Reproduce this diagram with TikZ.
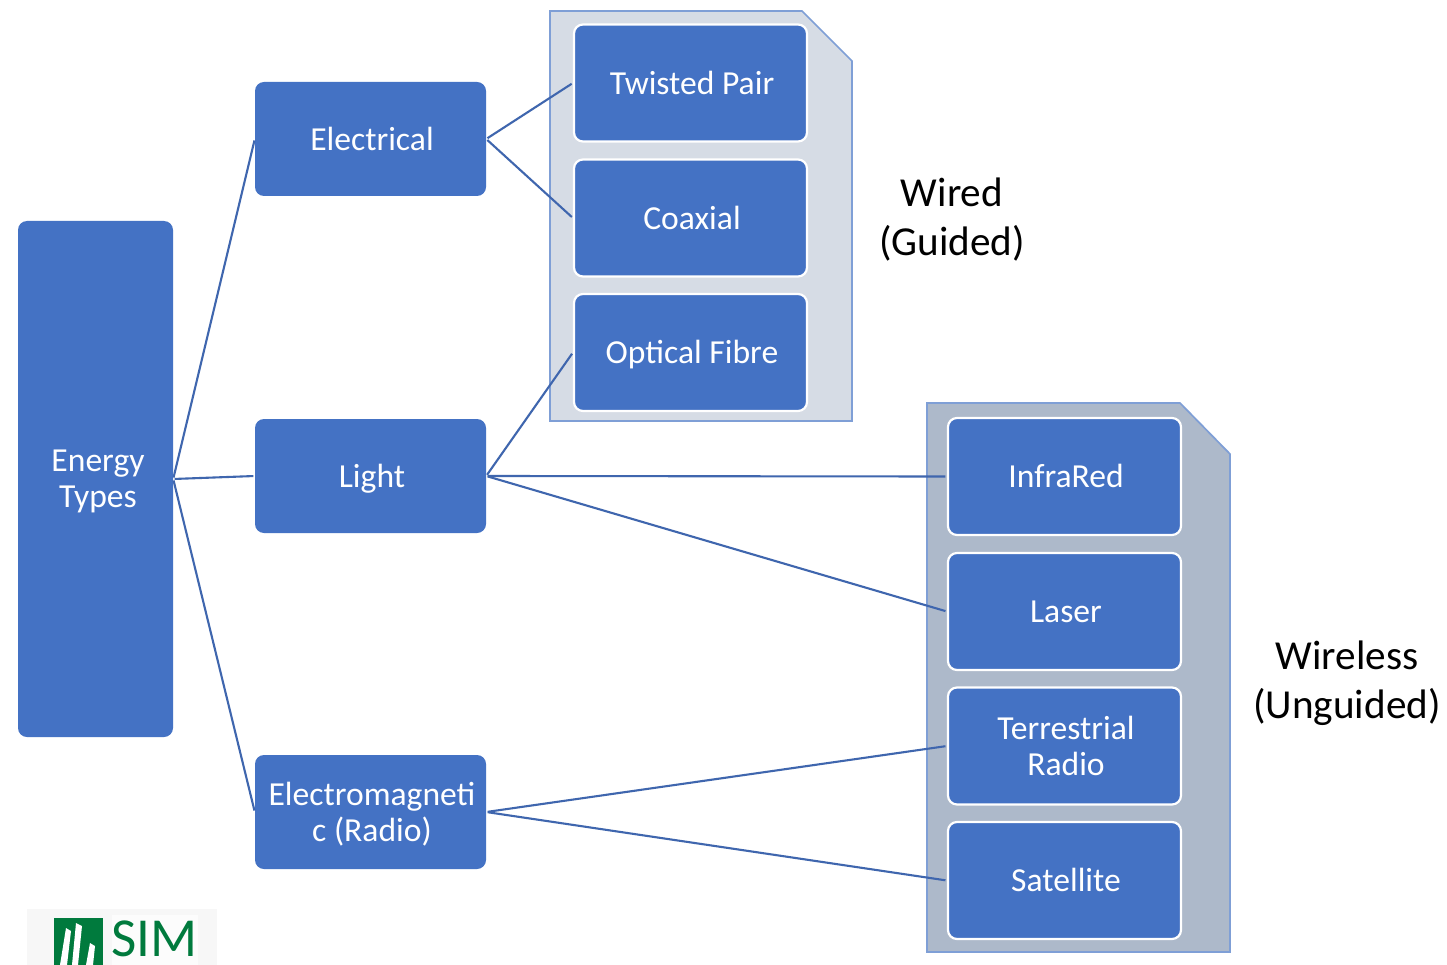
\documentclass[tikz,border=0pt]{standalone}
\usepackage{fontspec}
\setmainfont{Carlito}
\definecolor{boxblue}{HTML}{4472C4}
\definecolor{linkblue}{HTML}{3F66AE}
\definecolor{foldera}{HTML}{D6DCE5}
\definecolor{folderb}{HTML}{ADB9CA}
\definecolor{folderedge}{HTML}{7F9FD6}
\definecolor{simgreen}{HTML}{007A3D}
\begin{document}
\begin{tikzpicture}[x=1pt,y=-1pt,
  box/.style={fill=boxblue,rounded corners=9pt,text=white,align=center,inner sep=0pt,
    font=\fontsize{33.6}{36}\selectfont},
  sub/.style={box,draw=white,line width=2.2pt,minimum width=233pt,minimum height=117pt},
  cat/.style={box,draw=none,minimum width=231pt,minimum height=114pt},
  oneline/.style={text height=22.5pt,text depth=0pt},
  link/.style={draw=linkblue,line width=2.1pt,shorten >=1.5pt,shorten <=1.5pt},
  folder/.style={draw=folderedge,line width=1.7pt},
  captext/.style={align=center,inner sep=0pt,font=\fontsize{41.2}{49}\selectfont}]
\useasboundingbox (0,0) rectangle (1447,965);
\fill[white] (0,0) rectangle (1447,965);
% folders
\draw[folder,fill=foldera] (550,11) -- (802,11) -- (852,61) -- (852,421) -- (550,421) -- cycle;
\draw[folder,fill=folderb] (927,403) -- (1180,403) -- (1230,454) -- (1230,952) -- (927,952) -- cycle;
% nodes
\node[box,minimum width=155pt,minimum height=516pt] (energy) at (95.5,479) {\hspace*{5pt}Energy\\\hspace*{5pt}\smash{Types}};
\node[cat,oneline] (elec) at (370.5,139) {\hspace*{3pt}Electrical};
\node[cat,oneline] (light) at (370.5,476) {\hspace*{3pt}Light};
\node[cat] (em) at (370.5,812) {\hspace*{3pt}Electromagneti\\\hspace*{3pt}\smash{c (Radio)}};
\node[sub,oneline] (tp) at (690.5,83) {\hspace*{3pt}Twisted Pair};
\node[sub,oneline] (co) at (690.5,218) {\hspace*{3pt}Coaxial};
\node[sub,oneline] (of) at (690.5,352.5) {\hspace*{3pt}Optical Fibre};
\node[sub,oneline] (ir) at (1064.5,476.5) {\hspace*{3pt}InfraRed};
\node[sub,oneline] (la) at (1064.5,611.5) {\hspace*{3pt}Laser};
\node[sub] (tr) at (1064.5,746) {\hspace*{3pt}Terrestrial\\\hspace*{3pt}\smash{Radio}};
\node[sub,oneline] (sa) at (1064.5,880.5) {\hspace*{3pt}Satellite};
% connectors
\draw[link] (energy.east) -- (elec.west);
\draw[link] (energy.east) -- (light.west);
\draw[link] (energy.east) -- (em.west);
\draw[link] (elec.east) -- (tp.west);
\draw[link] (elec.east) -- (co.west);
\draw[link] (light.east) -- (of.west);
\draw[link] (light.east) -- (ir.west);
\draw[link] (light.east) -- (la.west);
\draw[link] (em.east) -- (tr.west);
\draw[link] (em.east) -- (sa.west);
% captions
\node[captext] (wired) at (952,220) {Wired\\(Guided)};
\node[captext] (wireless) at (1347,683) {Wireless\\(Unguided)};
% logo
\fill[black!3] (27,909) rectangle (217,965);
\fill[black!1] (112,915) rectangle (198,965);
\begin{scope}
\clip (0,0) rectangle (1447,965);
\fill[simgreen] (54,918) rectangle (103,965);
\fill[white] (66,928) -- (71,931) -- (67,965) -- (60,965) -- cycle;
\fill[white] (76,923) -- (82,926) -- (78,965) -- (72,965) -- cycle;
\fill[white] (90,943) -- (95,946) -- (93,965) -- (86,965) -- cycle;
\end{scope}
\node[inner sep=0pt,anchor=base west,text=simgreen,font=\fontsize{55}{55}\selectfont] (sim) at (111,956) {SIM};
\end{tikzpicture}
\end{document}
